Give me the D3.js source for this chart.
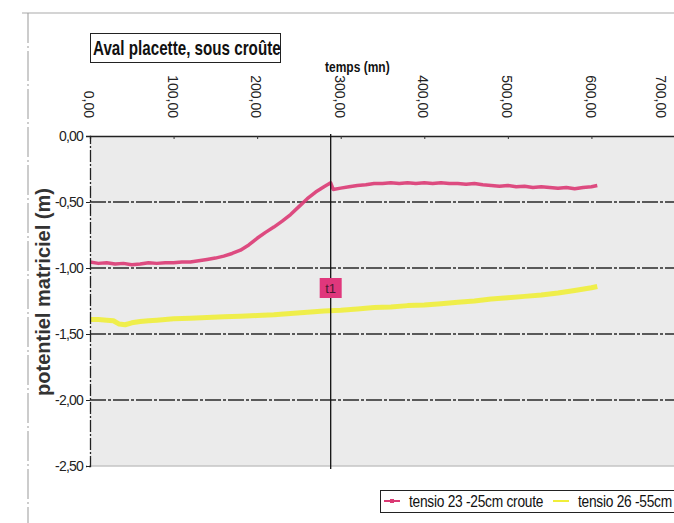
<!DOCTYPE html>
<html>
<head>
<meta charset="utf-8">
<script src="https://cdn.jsdelivr.net/npm/d3@7"></script>
<style>
  body { margin: 0; background: #fff; }
  svg { display: block; }
  text { font-family: "Liberation Sans", Arial, sans-serif; }
</style>
</head>
<body>
<div id="chart-mount"></div>
<script>
var WIDTH = 674;
var HEIGHT = 523;
var MARGIN = { left: 90, top: 136, bottom: 57 };

var X_TICKS = [0, 100, 200, 300, 400, 500, 600, 700];
var Y_TICKS = [0, -0.5, -1, -1.5, -2, -2.5];
var T1 = 288;

// tensio 23 -25cm croute
var PINK_TIME = [0, 10, 20, 30, 40, 50, 60, 70, 80, 90, 100, 110, 120, 130, 140, 150, 160, 170, 180, 190,
  200, 210, 220, 230, 240, 250, 260, 270, 280, 288, 291, 300, 310, 320, 330, 340, 350, 360, 370, 380,
  390, 400, 410, 420, 430, 440, 450, 460, 470, 480, 490, 500, 510, 520, 530, 540, 550, 560, 570, 580,
  590, 600, 607];
var PINK_VALUES = [-0.955, -0.965, -0.96, -0.97, -0.965, -0.975, -0.97, -0.96, -0.965, -0.96, -0.96, -0.955, -0.955, -0.945, -0.935, -0.925, -0.91, -0.89, -0.865, -0.825,
  -0.775, -0.73, -0.69, -0.645, -0.595, -0.535, -0.475, -0.425, -0.385, -0.355, -0.405, -0.395, -0.385, -0.375, -0.37, -0.36, -0.36, -0.355, -0.36, -0.355,
  -0.36, -0.355, -0.36, -0.355, -0.36, -0.36, -0.365, -0.36, -0.37, -0.375, -0.38, -0.375, -0.385, -0.38, -0.39, -0.385, -0.39, -0.395, -0.39, -0.4,
  -0.39, -0.385, -0.375];

// tensio 26 -55cm
var YELLOW_TIME = [0, 10, 20, 28, 35, 42, 50, 60, 70, 80, 100, 120, 140, 160, 180, 200, 220, 240, 260, 280,
  300, 320, 340, 360, 380, 400, 420, 440, 460, 480, 500, 520, 540, 560, 580, 600, 607];
var YELLOW_VALUES = [-1.39, -1.39, -1.395, -1.40, -1.425, -1.43, -1.415, -1.405, -1.40, -1.395, -1.385, -1.38, -1.375, -1.37, -1.365, -1.36, -1.355, -1.345, -1.335, -1.325,
  -1.32, -1.31, -1.30, -1.295, -1.285, -1.28, -1.27, -1.26, -1.25, -1.235, -1.225, -1.215, -1.205, -1.19, -1.17, -1.15, -1.14];

var SERIES = [
  { name: 'tensio 23 -25cm croute', color: '#db3a74', time: PINK_TIME, values: PINK_VALUES, width: 3.5 },
  { name: 'tensio 26 -55cm', color: '#f0ee3a', time: YELLOW_TIME, values: YELLOW_VALUES, width: 5 }
];

var fmt = function (d) { return d3.format('.2f')(d).replace('.', ',').replace('−', '-'); };

var $svg = d3.select('#chart-mount').append('svg')
  .attr('width', WIDTH)
  .attr('height', HEIGHT);

var x = d3.scaleLinear().domain([0, 700]).range([MARGIN.left, 675]);
var y = d3.scaleLinear().domain([0, -2.5]).range([MARGIN.top, HEIGHT - MARGIN.bottom]);

// condensed text: the original uses a narrow bold face, squeeze it horizontally
function narrowText (parent, px, py, sx, str) {
  return parent.append('text')
    .attr('transform', 'translate(' + px + ',' + py + ') scale(' + sx + ',1)')
    .text(str);
}

function drawFrame () {
  $svg.append('line')
    .attr('x1', 22).attr('x2', WIDTH).attr('y1', 13).attr('y2', 13)
    .attr('stroke', '#aaa').attr('stroke-width', 1.2);
  $svg.append('line')
    .attr('x1', 28).attr('x2', 28).attr('y1', 13).attr('y2', HEIGHT)
    .attr('stroke', '#999').attr('stroke-width', 1)
    .attr('stroke-dasharray', '30,3,2,3');
}

function drawPlotArea () {
  $svg.append('rect')
    .attr('x', x(0)).attr('y', y(0))
    .attr('width', WIDTH - x(0)).attr('height', y(-2.5) - y(0))
    .attr('fill', '#ebebeb');

  $svg.append('g')
    .selectAll('line')
    .data(Y_TICKS.filter(function (d) { return d < 0 && d > -2.5; }))
    .enter()
      .append('line')
      .attr('x1', x(0)).attr('x2', WIDTH)
      .attr('y1', function (d) { return y(d); })
      .attr('y2', function (d) { return y(d); })
      .attr('stroke', '#2a2a2a')
      .attr('stroke-width', 1.3)
      .attr('stroke-dasharray', '16,2,3,2');

  // bottom edge, light
  $svg.append('line')
    .attr('x1', x(0)).attr('x2', WIDTH).attr('y1', y(-2.5)).attr('y2', y(-2.5))
    .attr('stroke', '#c4c4c4').attr('stroke-width', 1.5);
}

function drawAxes () {
  var top = $svg.append('g')
    .attr('transform', 'translate(0,' + y(0) + ')')
    .call(d3.axisTop(x).tickValues(X_TICKS).tickSize(-3).tickFormat(''));
  top.select('.domain').attr('stroke', '#222').attr('stroke-width', 1.3);
  top.selectAll('.tick line').attr('stroke', '#333');

  $svg.append('g')
    .selectAll('text')
    .data(X_TICKS)
    .enter()
      .append('text')
      .attr('transform', function (d) {
        var px = Math.min(x(d) - 1, 661);
        return 'translate(' + px + ',118) rotate(90)';
      })
      .attr('text-anchor', 'end')
      .attr('dy', '0.35em')
      .attr('font-size', 14)
      .attr('fill', '#222')
      .text(function (d) { return fmt(d); });

  var left = $svg.append('g')
    .attr('transform', 'translate(' + x(0) + ',0)')
    .call(d3.axisLeft(y).tickValues(Y_TICKS).tickSize(4).tickFormat(fmt));
  left.select('.domain').attr('stroke', '#222').attr('stroke-width', 1.3).attr('stroke-dasharray', '12,2,2,2');
  left.selectAll('.tick line').attr('stroke', '#222');
  left.selectAll('.tick text')
    .attr('font-family', '"Liberation Serif", serif')
    .attr('font-size', 14)
    .attr('letter-spacing', -0.8)
    .attr('fill', '#222')
    .attr('x', -7);
}

function drawSeries () {
  var line = d3.line()
    .x(function (d) { return x(d[0]); })
    .y(function (d) { return y(d[1]); });

  $svg.append('g')
    .selectAll('path')
    .data(SERIES)
    .enter()
      .append('path')
      .attr('d', function (s) { return line(d3.zip(s.time, s.values)); })
      .attr('fill', 'none')
      .attr('stroke', function (s) { return s.color; })
      .attr('stroke-width', function (s) { return s.width; })
      .attr('stroke-linejoin', 'round')
      .attr('opacity', 0.9);
}

function drawMarker () {
  $svg.append('line')
    .attr('x1', x(T1)).attr('x2', x(T1))
    .attr('y1', y(0) - 2).attr('y2', y(-2.5) + 3)
    .attr('stroke', '#111').attr('stroke-width', 1.3);

  $svg.append('rect')
    .attr('x', x(T1) - 11).attr('y', 278)
    .attr('width', 22).attr('height', 20)
    .attr('fill', '#e0377c');
  $svg.append('text')
    .attr('x', x(T1)).attr('y', 293)
    .attr('text-anchor', 'middle')
    .attr('font-size', 13)
    .attr('fill', '#4a1a30')
    .text('t1');
}

function drawLabels () {
  $svg.append('rect')
    .attr('x', 90.5).attr('y', 33.5)
    .attr('width', 190).attr('height', 29)
    .attr('fill', '#fff').attr('stroke', '#222').attr('stroke-width', 1);
  narrowText($svg, 93, 55, 0.76, 'Aval placette, sous croûte')
    .attr('font-size', 20).attr('font-weight', 'bold')
    .attr('fill', '#111');

  narrowText($svg, 325, 72, 0.8, 'temps (mn)')
    .attr('font-size', 15).attr('font-weight', 'bold')
    .attr('fill', '#111');

  $svg.append('text')
    .attr('transform', 'translate(50,292) rotate(-90)')
    .attr('text-anchor', 'middle')
    .attr('font-size', 20).attr('font-weight', 'bold')
    .attr('fill', '#333')
    .text('potentiel matriciel (m)');
}

function drawLegend () {
  var $legend = $svg.append('g').attr('transform', 'translate(380,490)');
  $legend.append('rect')
    .attr('x', 0.5).attr('y', 0.5)
    .attr('width', 310).attr('height', 22)
    .attr('fill', '#fff').attr('stroke', '#222');

  var offsets = [4, 173];
  var $items = $legend.selectAll('g.item')
    .data(SERIES)
    .enter()
      .append('g')
      .attr('class', 'item')
      .attr('transform', function (d, i) { return 'translate(' + offsets[i] + ',11)'; });

  $items.append('line')
    .attr('x1', 0).attr('x2', 16)
    .attr('stroke', function (s) { return s.color; })
    .attr('stroke-width', 2);
  $items.filter(function (d, i) { return i === 0; })
    .append('rect')
    .attr('x', 6).attr('y', -2).attr('width', 4).attr('height', 4)
    .attr('fill', function (s) { return s.color; });
  $items.each(function (s) {
    narrowText(d3.select(this), 25, 6, 0.86, s.name)
      .attr('font-size', 16)
      .attr('letter-spacing', -0.3)
      .attr('fill', '#111');
  });
}

drawFrame();
drawPlotArea();
drawSeries();
drawAxes();
drawMarker();
drawLabels();
drawLegend();
</script>
</body>
</html>
